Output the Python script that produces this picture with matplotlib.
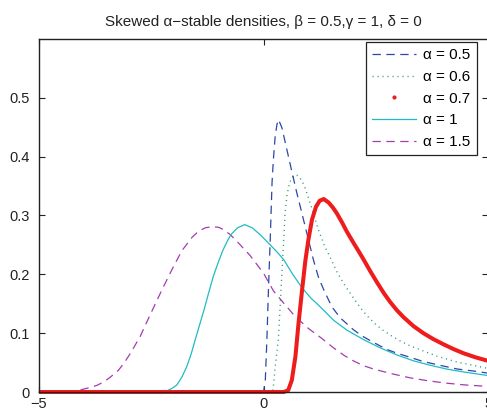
import matplotlib
matplotlib.use("Agg")
import matplotlib.pyplot as plt
from matplotlib.lines import Line2D

plt.rcParams['font.family'] = ['Liberation Sans', 'DejaVu Sans']
plt.rcParams['font.size'] = 10
plt.rcParams['lines.scale_dashes'] = False

# --- данные ---
x_a05 = [-5, 0.0, 0.04, 0.075, 0.11, 0.15, 0.19, 0.22, 0.26, 0.30, 0.334, 0.41, 0.52, 0.63,
         0.74, 0.89, 1.00, 1.11, 1.22, 1.34, 1.52, 1.71, 2.0, 2.2, 2.41, 2.58, 2.76, 2.97,
         3.18, 3.55, 3.95, 4.32, 4.75, 5.0]
y_a05 = [0, 0, 0.020, 0.089, 0.174, 0.26, 0.356, 0.395, 0.435, 0.455, 0.463, 0.449, 0.412,
         0.375, 0.339, 0.293, 0.259, 0.225, 0.196, 0.174, 0.145, 0.126, 0.106, 0.095, 0.086,
         0.079, 0.072, 0.066, 0.061, 0.052, 0.045, 0.039, 0.035, 0.032]

x_a06 = [-5, 0.2, 0.22, 0.26, 0.33, 0.37, 0.41, 0.445, 0.48, 0.52, 0.58, 0.67, 0.76, 0.85,
         0.93, 1.00, 1.11, 1.22, 1.35, 1.49, 1.63, 1.78, 2.00, 2.15, 2.30, 2.47, 2.64, 2.84,
         3.04, 3.25, 3.45, 3.86, 4.31, 4.75, 5.0]
y_a06 = [0, 0, 0.009, 0.043, 0.089, 0.145, 0.202, 0.253, 0.304, 0.333, 0.356, 0.368, 0.368,
         0.360, 0.346, 0.330, 0.304, 0.276, 0.250, 0.228, 0.205, 0.185, 0.160, 0.144, 0.130,
         0.117, 0.106, 0.096, 0.087, 0.079, 0.073, 0.061, 0.051, 0.044, 0.040]

x_a07 = [-5, 0.45, 0.55, 0.63, 0.71, 0.78, 0.86, 0.93, 1.00, 1.08, 1.17, 1.25, 1.34, 1.45,
         1.55, 1.63, 1.75, 1.86, 2.0, 2.12, 2.23, 2.38, 2.53, 2.68, 2.82, 2.97, 3.12, 3.34,
         3.56, 3.78, 4.01, 4.23, 4.45, 4.72, 5.0]
y_a07 = [0, 0, 0.003, 0.02, 0.06, 0.117, 0.174, 0.222, 0.259, 0.293, 0.315, 0.325, 0.328,
         0.322, 0.313, 0.304, 0.288, 0.272, 0.254, 0.239, 0.225, 0.205, 0.186, 0.168, 0.153,
         0.139, 0.127, 0.112, 0.100, 0.090, 0.081, 0.073, 0.066, 0.059, 0.053]

x_a1 = [-5, -2.4, -2.15, -2.04, -1.93, -1.82, -1.71, -1.61, -1.52, -1.42, -1.32, -1.22,
        -1.12, -1.01, -0.91, -0.81, -0.72, -0.58, -0.42, -0.25, -0.07, 0.15, 0.30, 0.45,
        0.65, 0.86, 1.05, 1.26, 1.56, 1.86, 2.23, 2.60, 2.97, 3.34, 3.71, 4.08, 4.46, 5.0]
y_a1 = [0, 0, 0.002, 0.006, 0.012, 0.025, 0.043, 0.065, 0.089, 0.115, 0.141, 0.169, 0.196,
        0.220, 0.240, 0.256, 0.268, 0.279, 0.2845, 0.279, 0.267, 0.250, 0.238, 0.225, 0.200,
        0.177, 0.160, 0.145, 0.122, 0.105, 0.089, 0.075, 0.063, 0.053, 0.0455, 0.039,
        0.034, 0.028]

x_a15 = [-5, -4.3, -4.16, -3.9, -3.72, -3.56, -3.40, -3.23, -3.10, -2.97, -2.75, -2.52,
         -2.26, -2.04, -1.82, -1.59, -1.45, -1.30, -1.15, -1.00, -0.89, -0.75, -0.59,
         -0.30, 0.0, 0.22, 0.45, 0.71, 1.0, 1.30, 1.56, 1.80, 2.0, 2.22, 2.45, 2.86, 3.27,
         3.67, 4.08, 4.49, 4.90, 5.0]
y_a15 = [0, 0, 0.002, 0.007, 0.011, 0.017, 0.026, 0.037, 0.050, 0.065, 0.094, 0.132, 0.174,
         0.208, 0.240, 0.263, 0.273, 0.279, 0.281, 0.280, 0.276, 0.268, 0.256, 0.232, 0.202,
         0.172, 0.151, 0.128, 0.108, 0.091, 0.075, 0.062, 0.053, 0.045, 0.039, 0.031, 0.024,
         0.019, 0.015, 0.012, 0.010, 0.0095]

labels = ['α = 0.5', 'α = 0.6', 'α = 0.7', 'α = 1', 'α = 1.5']

fig = plt.figure(figsize=(4.87, 4.11), dpi=100)
ax = fig.add_axes([0.0801, 0.0462, 0.922, 0.859])

c_blue = '#2a47a8'
c_green = '#2f9e72'
c_red = '#ee1c1c'
c_cyan = '#1fbcc4'
c_purple = '#a43cb0'

ax.plot(x_a15, y_a15, color=c_purple, lw=0.9, dashes=(6, 4), clip_on=False)
ax.plot(x_a1, y_a1, color=c_cyan, lw=0.9, clip_on=False)
ax.plot(x_a06, y_a06, color=c_green, lw=1.0, dashes=(0.8, 2.8), clip_on=False)
ax.plot(x_a05, y_a05, color=c_blue, lw=0.9, dashes=(6, 4), clip_on=False)
ax.plot(x_a07, y_a07, color=c_red, lw=2.9, clip_on=False, solid_capstyle='butt',
        solid_joinstyle='round')

ax.set_xlim(-5, 5)
ax.set_ylim(0, 0.6)
ax.set_xticks([-5, 0, 5])
ax.set_xticklabels(['\u22125', '0', '5'])
ax.set_yticks([0, 0.1, 0.2, 0.3, 0.4, 0.5])
ax.set_yticklabels(['0', '0.1', '0.2', '0.3', '0.4', '0.5'])
ax.tick_params(direction='in', length=4, width=0.8, top=True, right=True,
               labelsize=10.5, colors='#222222')
ax.tick_params(axis='x', pad=3.5)
ax.tick_params(axis='y', pad=7)
for s in ax.spines.values():
    s.set_linewidth(1.0)
    s.set_color('#222222')

ax.set_title('Skewed α\u2212stable densities, β = 0.5,γ = 1, δ = 0',
             fontsize=11, pad=9, color='#222222')

handles = [
    Line2D([], [], color=c_blue, lw=0.9, dashes=(6, 4)),
    Line2D([], [], color=c_green, lw=1.0, dashes=(0.8, 2.8)),
    Line2D([], [], color=c_red, ls='none', marker='.', markersize=4),
    Line2D([], [], color=c_cyan, lw=0.9),
    Line2D([], [], color=c_purple, lw=0.9, dashes=(6, 4)),
]
leg = ax.legend(handles, labels, loc='upper right', bbox_to_anchor=(0.9755, 0.9915),
                borderaxespad=0, fancybox=False, framealpha=1, edgecolor='#222222',
                fontsize=11, handlelength=2.9, handletextpad=0.45, labelspacing=0.5,
                borderpad=0.42)
leg.get_frame().set_linewidth(0.9)

fig.savefig('out.png', dpi=100)
